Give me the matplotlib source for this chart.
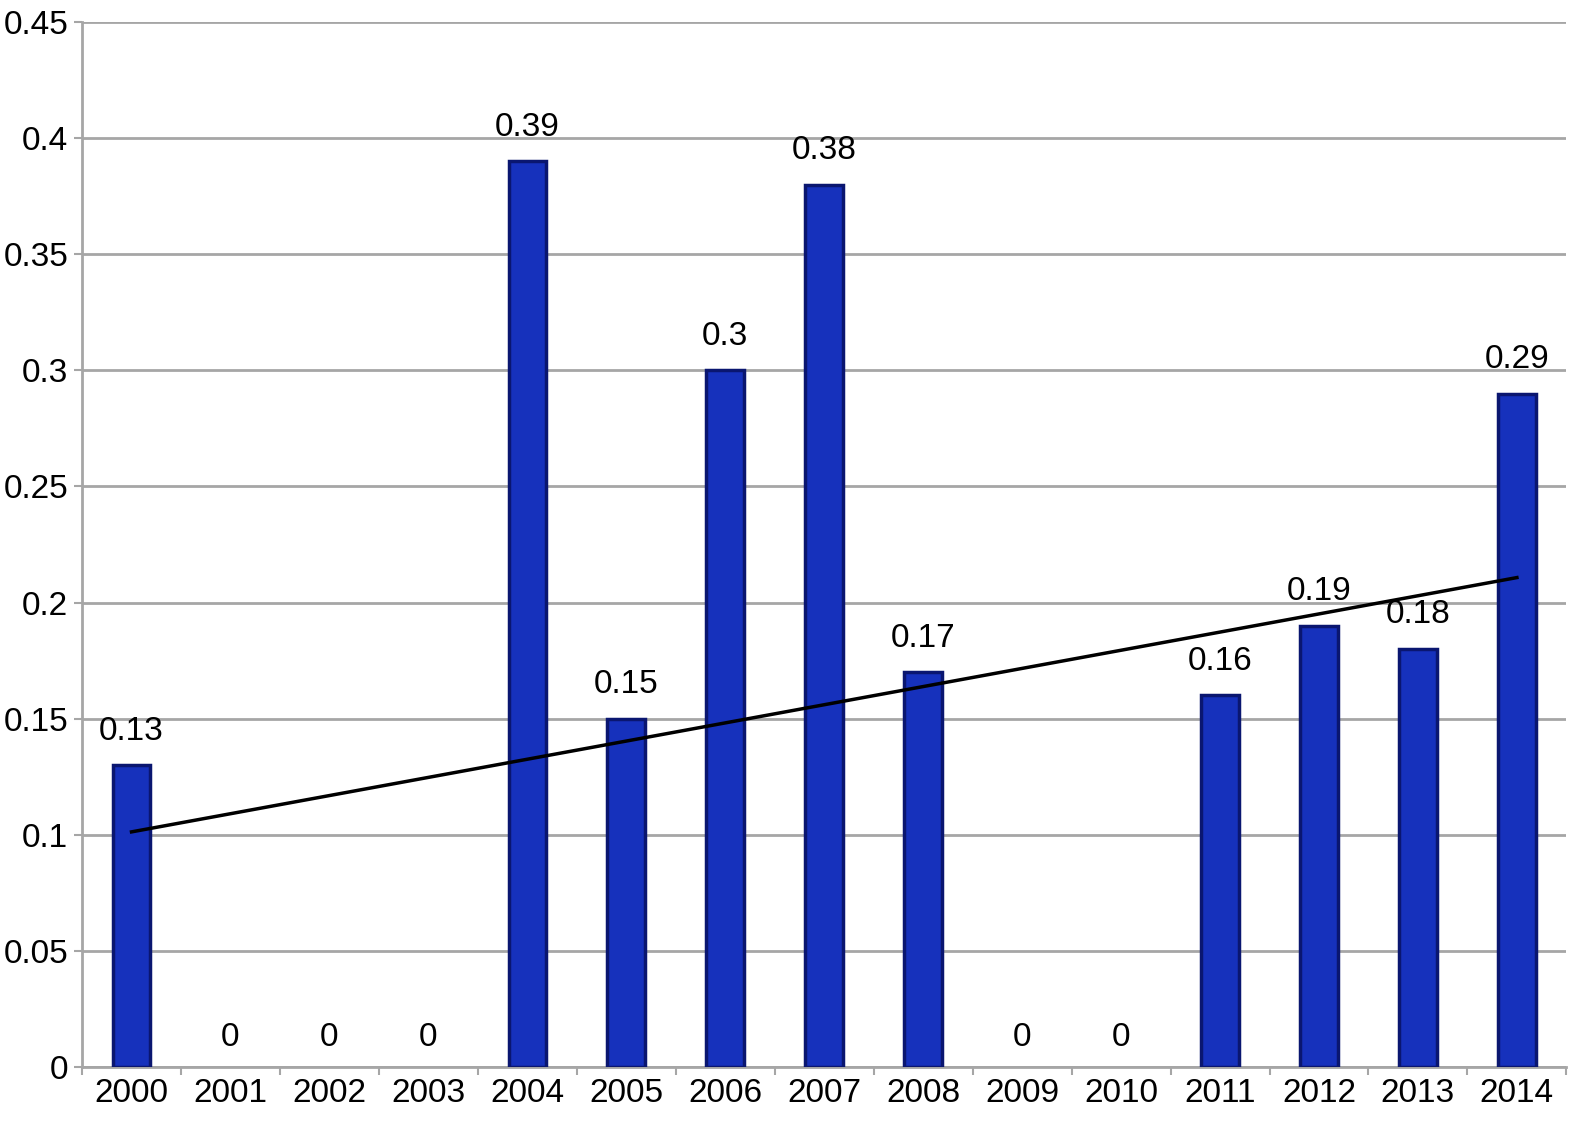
import numpy as np
import matplotlib.pyplot as plt
from matplotlib.ticker import FixedLocator, NullFormatter

plt.rcParams['font.family'] = ['Liberation Sans', 'DejaVu Sans']

years = ["2000", "2001", "2002", "2003", "2004", "2005", "2006", "2007",
         "2008", "2009", "2010", "2011", "2012", "2013", "2014"]
values = [0.13, 0, 0, 0, 0.39, 0.15, 0.30, 0.38, 0.17, 0, 0, 0.16, 0.19, 0.18, 0.29]
value_labels = ["0.13", "0", "0", "0", "0.39", "0.15", "0.3", "0.38",
                "0.17", "0", "0", "0.16", "0.19", "0.18", "0.29"]
y_ticks = [0, 0.05, 0.1, 0.15, 0.2, 0.25, 0.3, 0.35, 0.4, 0.45]
y_tick_labels = ["0", "0.05", "0.1", "0.15", "0.2", "0.25", "0.3", "0.35", "0.4", "0.45"]

fig = plt.figure(figsize=(15.87, 11.32), dpi=100)
ax = fig.add_axes([0.0517, 0.0574, 0.9353, 0.9232])

x = np.arange(len(years))
grid_col = "#a6a6a6"
fs = 24

for t in y_ticks:
    ax.axhline(t, color=grid_col, lw=2.0, zorder=1)

# zero-valued bars get no outline so nothing shows on the axis
edges = ["#0a1670" if v > 0 else "none" for v in values]
ax.bar(x, values, width=0.38, color="#1631bc", edgecolor=edges,
       linewidth=2.5, zorder=3)

# linear trend line fitted to the data
slope, intercept = np.polyfit(x, values, 1)
ax.plot([x[0], x[-1]], [intercept + slope * x[0], intercept + slope * x[-1]],
        color="black", lw=2.5, zorder=4)

for xi, v, lab in zip(x, values, value_labels):
    y_off = 0.008 if v > 0 else 0.006
    ax.text(xi, v + y_off, lab, ha="center", va="bottom", fontsize=fs, zorder=5)

ax.set_xlim(-0.5, len(years) - 0.5)
ax.set_ylim(0, 0.45)
ax.set_yticks(y_ticks)
ax.set_yticklabels(y_tick_labels, fontsize=fs)
ax.set_xticks(x)
ax.set_xticklabels(years, fontsize=fs)
ax.tick_params(axis="x", length=0, pad=8)
ax.xaxis.set_minor_locator(FixedLocator(np.arange(-0.5, len(years), 1.0)))
ax.xaxis.set_minor_formatter(NullFormatter())
ax.tick_params(axis="x", which="minor", length=6, width=1.5, color=grid_col, direction="out")
ax.tick_params(axis="y", length=6, width=1.5, color=grid_col, pad=4)

for side in ["top", "right"]:
    ax.spines[side].set_visible(False)
ax.spines["left"].set_color(grid_col)
ax.spines["left"].set_linewidth(2.0)
ax.spines["bottom"].set_color(grid_col)
ax.spines["bottom"].set_linewidth(2.0)

fig.savefig("out.png", dpi=100)
